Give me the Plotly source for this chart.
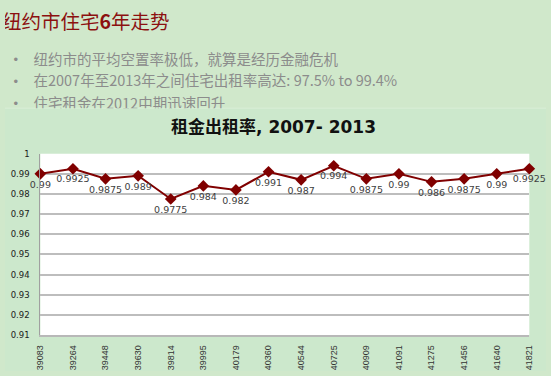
import plotly.graph_objects as go

W, H = 551, 376

categories = ["39083", "39264", "39448", "39630", "39814", "39995", "40179", "40360",
              "40544", "40725", "40909", "41091", "41275", "41456", "41640", "41821"]
occupancy = [0.99, 0.9925, 0.9875, 0.989, 0.9775, 0.984, 0.982, 0.991,
             0.987, 0.994, 0.9875, 0.99, 0.986, 0.9875, 0.99, 0.9925]
labels = [f"{v:g}" for v in occupancy]

slide_title = "纽约市住宅<b>6</b>年走势"
bullets = ["纽约市的平均空置率极低，就算是经历金融危机",
           "在2007年至2013年之间住宅出租率高达: 97.5% to 99.4%",
           "住宅租金在2012中期迅速回升"]
chart_title = "租金出租率, 2007- 2013"

def px(v):
    return v / W

def py(v):
    return 1 - v / H

fig = go.Figure()

# main series
fig.add_trace(go.Scatter(
    x=categories, y=occupancy, mode="lines+markers+text",
    text=labels, textposition="bottom center",
    textfont=dict(family="DejaVu Sans", size=9.5, color="#404040"),
    line=dict(color="#800000", width=2),
    marker=dict(symbol="diamond", size=9, color="#800000"),
    cliponaxis=False, showlegend=False, hoverinfo="skip",
    xaxis="x", yaxis="y"))

# slide header text (clipped by the chart box like the original)
bullet_y = [57.5, 80, 103]
fig.add_trace(go.Scatter(
    x=[29] * len(bullets), y=bullet_y, mode="text", text=bullets,
    textposition="middle right",
    textfont=dict(family="Noto Sans CJK SC", size=14.5, color="#8c8c8c"),
    cliponaxis=True, showlegend=False, hoverinfo="skip",
    xaxis="x2", yaxis="y2"))
fig.add_trace(go.Scatter(
    x=[11] * len(bullets), y=bullet_y, mode="text", text=["•"] * len(bullets),
    textposition="middle center",
    textfont=dict(family="DejaVu Sans", size=12, color="#8c8c8c"),
    cliponaxis=True, showlegend=False, hoverinfo="skip",
    xaxis="x2", yaxis="y2"))
fig.add_trace(go.Scatter(
    x=[-3], y=[20], mode="text", text=[slide_title],
    textposition="middle right",
    textfont=dict(family="Noto Sans CJK SC", size=19.5, color="#8c1010"),
    cliponaxis=True, showlegend=False, hoverinfo="skip",
    xaxis="x2", yaxis="y2"))

fig.update_layout(
    width=W, height=H,
    margin=dict(l=0, r=0, t=0, b=0),
    paper_bgcolor="#d0e8cb",
    plot_bgcolor="rgba(0,0,0,0)",
    xaxis=dict(
        domain=[px(36), px(534)], type="category", range=[0, len(categories) - 1],
        showgrid=False, zeroline=False,
        showline=True, linecolor="#b8b8b8", linewidth=1.5,
        tickangle=-90, ticks="outside", ticklen=5, tickcolor="rgba(0,0,0,0)",
        tickfont=dict(family="Liberation Sans Narrow, Liberation Sans", size=9, color="#333333"),
        fixedrange=True),
    yaxis=dict(
        domain=[py(339), py(152.7)], range=[0.91, 1.0], dtick=0.01, tick0=0.91,
        showgrid=True, gridcolor="#bdbdbd", gridwidth=1.5, zeroline=False,
        showline=True, linecolor="#a0a0a0", linewidth=1,
        ticks="outside", ticklen=8, tickcolor="rgba(0,0,0,0)",
        tickfont=dict(family="DejaVu Sans", size=8.5, color="#1a1a1a"),
        fixedrange=True),
    xaxis2=dict(domain=[0, 1], range=[0, W], visible=False, anchor="y2", fixedrange=True),
    yaxis2=dict(domain=[py(106), 1], range=[106, 0], visible=False, anchor="x2", fixedrange=True),
    shapes=[
        dict(type="rect", xref="paper", yref="paper", x0=0, x1=1, y0=0, y1=py(106),
             fillcolor="#cce8cc", line=dict(width=0), layer="below"),
        dict(type="line", xref="paper", yref="paper", x0=0, x1=1, y0=py(106), y1=py(106),
             line=dict(color="#d9eed7", width=1), layer="below"),
        dict(type="rect", xref="x domain", yref="y domain", x0=0, x1=1, y0=0, y1=1,
             fillcolor="white", line=dict(width=0), layer="below"),
    ],
    annotations=[
        dict(text="<b>" + chart_title + "</b>", xref="paper", yref="paper",
             x=px(273), y=py(125), xanchor="center", yanchor="middle", showarrow=False,
             font=dict(family="DejaVu Sans, Noto Sans CJK SC", size=17, color="#111111")),
    ],
)

fig.write_html("out.html", config={"displayModeBar": False},
               post_script="document.body.style.margin='0';document.body.style.padding='0';")
